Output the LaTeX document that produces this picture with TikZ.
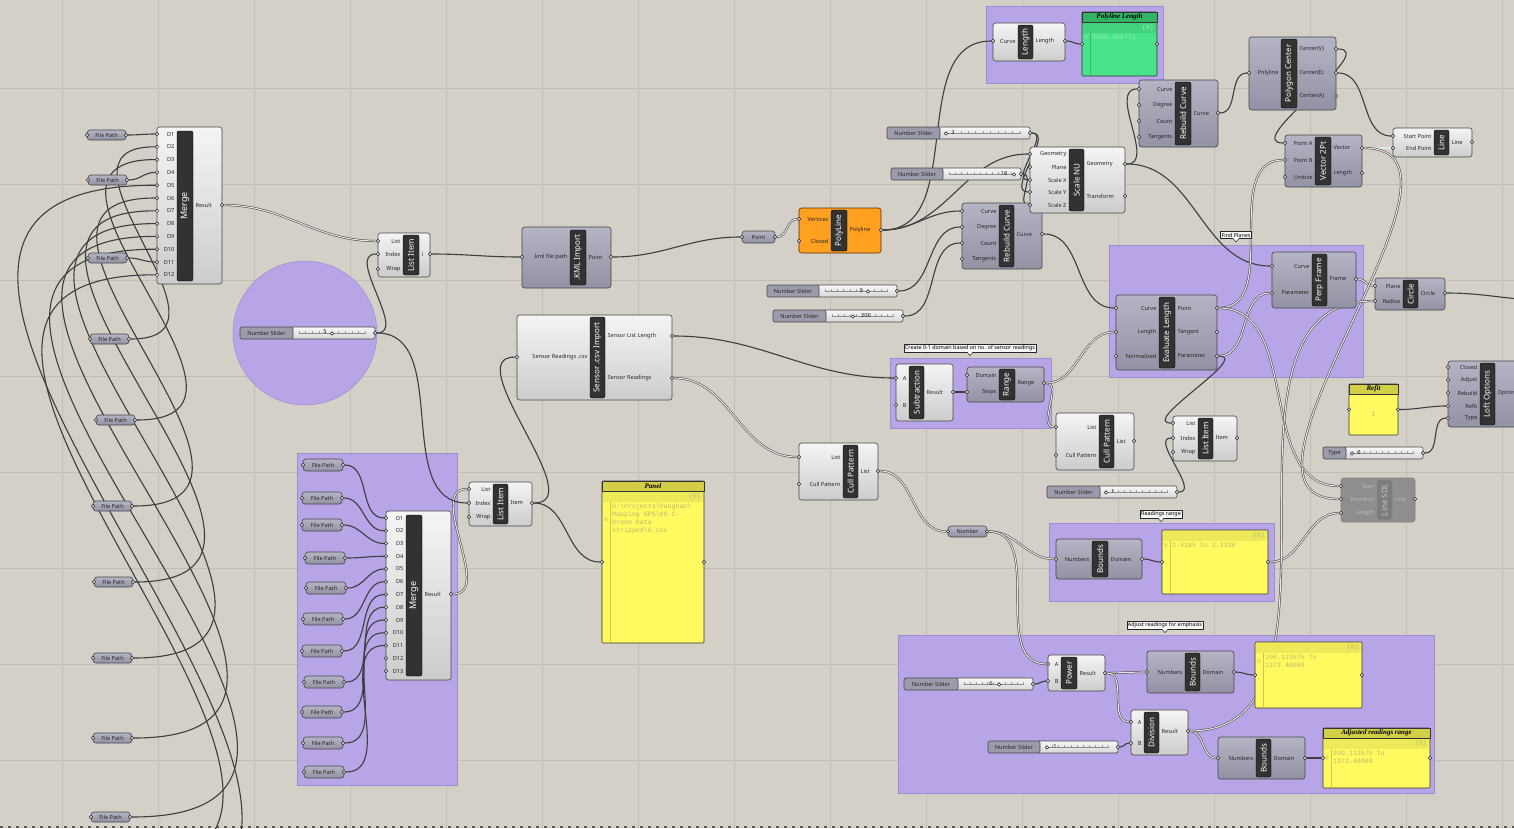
\documentclass[tikz,border=0pt]{standalone}
\usepackage{fontspec}
\setmainfont{Noto Sans}
\newfontfamily\ghmono{Liberation Mono}
\newfontfamily\ghserif{Liberation Serif}
\usetikzlibrary{calc}
\pgfdeclarelayer{back}
\pgfdeclarelayer{wires}
\pgfsetlayers{back,wires,main}

\definecolor{canvas}{RGB}{212,208,200}
\definecolor{gridc}{RGB}{194,190,182}
\definecolor{grpfill}{RGB}{183,165,232}
\definecolor{grpline}{RGB}{158,142,206}
\definecolor{wirec}{RGB}{62,62,62}
\definecolor{bluetop}{RGB}{180,180,196}
\definecolor{bluebot}{RGB}{146,146,164}
\definecolor{barc}{RGB}{50,50,50}
\definecolor{orangec}{RGB}{255,160,32}
\definecolor{panely}{RGB}{255,250,96}
\definecolor{panelh}{RGB}{210,206,70}
\definecolor{panelg}{RGB}{72,226,136}
\definecolor{panelgh}{RGB}{50,180,98}
\definecolor{paneltx}{RGB}{190,182,112}
\definecolor{paneltg}{RGB}{150,240,186}
\definecolor{offc}{RGB}{142,142,142}

\tikzset{
  box/.style={draw=black!72, line width=0.6pt, rounded corners=2.5pt, inner sep=0pt, outer sep=0pt},
  lightbox/.style={box, top color=white!96!black, bottom color=white!80!black},
  bluebox/.style={box, top color=bluetop, bottom color=bluebot},
  orangebox/.style={box, draw=orange!35!black, fill=orangec},
  offbox/.style={box, draw=black!50, fill=offc},
  bar/.style={draw=black, fill=barc, rounded corners=2pt, inner sep=0pt, text=white, font=\fontsize{8}{8}\selectfont},
  offbar/.style={bar, draw=black!45, fill=offc!88!black, text=white!78!black},
  plabel/.style={inner sep=0.4pt, font=\fontsize{5.6}{6}\selectfont, text=black!85},
  offlabel/.style={plabel, text=white!74!black},
  port/.style={circle, draw=black!85, fill=white!90!black, line width=0.5pt, inner sep=0pt, minimum size=3.6pt},
  param/.style={box, rounded corners=3pt, top color=bluetop, bottom color=bluebot, font=\fontsize{5.6}{6}\selectfont, text=black!85},
  slabel/.style={box, rounded corners=2pt, fill=bluebot!92!white, minimum height=12pt, font=\fontsize{5.6}{6}\selectfont, text=black!85},
  strack/.style={box, rounded corners=2pt, top color=white!97!black, bottom color=white!84!black, minimum height=12pt},
  stick/.style={draw=black!45, line width=0.35pt},
  sval/.style={inner sep=0pt, font=\fontsize{5.6}{6}\selectfont, text=black!85},
  handle/.style={circle, draw=black!85, fill=white, line width=0.5pt, inner sep=0pt, minimum size=3.4pt},
  panel/.style={draw=black!80, line width=0.6pt, rounded corners=1pt, inner sep=0pt, outer sep=0pt},
  phead/.style={draw=black!80, line width=0.6pt, inner sep=0pt, font=\ghserif\bfseries\itshape\fontsize{7}{7}\selectfont},
  ptext/.style={inner sep=0pt, align=left, font=\ghmono\fontsize{6.6}{8}\selectfont},
  group/.style={draw=grpline, fill=grpfill, line width=0.5pt, inner sep=0pt},
  note/.style={draw=black!85, fill=white!97!black, line width=0.5pt, inner sep=1.2pt, font=\fontsize{5.4}{6}\selectfont},
  wire/.style={draw=wirec, line width=1.1pt},
  dwire/.style={draw=wirec, line width=0.5pt, double=white!80!gray, double distance=1.1pt},
  farwire/.style={wire, looseness=1.6},
}

\newcommand\ghcomp[6]{%
  \pgfmathsetmacro\ghW{#4-#2}\pgfmathsetmacro\ghH{#5-#3}%
  \node[#6, minimum width=\ghW pt, minimum height=\ghH pt] (#1) at ({(#2+#4)/2},{(#3+#5)/2}) {};}
\newcommand\ghbar[7][bar]{%
  \pgfmathsetmacro\ghW{#5-#3}\pgfmathsetmacro\ghH{#6-#4}%
  \node[#1, rotate=90, minimum width=\ghH pt, minimum height=\ghW pt] (#2) at ({(#3+#5)/2},{(#4+#6)/2}) {#7};}
\newcommand\ghin[6][plabel]{%
  \node[#1, anchor=east] (#2-t) at ({#5},{#4}) {#6};
  \node[port] (#2) at ({#3},{#4}) {};}
\newcommand\ghout[6][plabel]{%
  \node[#1, anchor=west] (#2-t) at ({#5},{#4}) {#6};
  \node[port] (#2) at ({#3},{#4}) {};}
\newcommand\ghparam[6]{%
  \pgfmathsetmacro\ghW{#4-#2}\pgfmathsetmacro\ghH{#5-#3}%
  \node[param, minimum width=\ghW pt, minimum height=\ghH pt] (#1) at ({(#2+#4)/2},{(#3+#5)/2}) {#6};
  \node[port] (#1-i) at ({#2},{(#3+#5)/2}) {};
  \node[port] (#1-o) at ({#4},{(#3+#5)/2}) {};}
\newcommand\ghslider[9]{%
  \pgfmathsetmacro\ghW{#5-#4+3}\pgfmathsetmacro\ghH{#4-#2}\pgfmathsetmacro\ghS{(#5-#4-16)/10}%
  \node[strack, minimum width=\ghW pt] (#1-t) at ({(#4-3+#5)/2},{#3+6}) {};
  \node[slabel, minimum width=\ghH pt] (#1-l) at ({(#2+#4)/2},{#3+6}) {#6};
  \draw[stick] ({#4+6},{#3+6.5}) -- ({#5-10},{#3+6.5});
  \foreach \k in {0,...,10} \draw[stick] ({#4+6+\k*\ghS},{#3+6.5}) -- ++(0,-2);
  \node[sval] (#1-v) at ({#8},{#3+5}) {#7};
  \node[handle] (#1-h) at ({#9},{#3+6.5}) {};
  \node[port] (#1) at ({#5},{#3+6}) {};}
\newcommand\ghpanel[9]{%
  \pgfmathsetmacro\ghW{#4-#2}\pgfmathsetmacro\ghH{#5-#3}%
  \node[panel, fill=#7, minimum width=\ghW pt, minimum height=\ghH pt] (#1) at ({(#2+#4)/2},{(#3+#5)/2}) {};
  \fill[#7!93!black] ({#2+0.6},{#6+0.6}) rectangle ({#4-0.6},{#6+11});
  \draw[#7!80!black, line width=0.4pt] ({#2+8},{#6+11}) -- ({#2+8},{#5-0.6});
  \node[ptext, anchor=east, text=#9] (#1-b) at ({#4-3},{#6+5.8}) {\{0\}};
  \node[ptext, anchor=north west, text=#9] (#1-x) at ({#2+10},{#6+13}) {#8};
  \node[ptext, text=#9, font=\ghmono\fontsize{5.6}{6}\selectfont] (#1-n) at ({#2+4},0 |- #1-x.center) {0};
  \node[port] (#1-i) at ({#2},{(#3+#5)/2}) {};
  \node[port] (#1-o) at ({#4},{(#3+#5)/2}) {};}
\newcommand\ghtitle[6]{%
  \pgfmathsetmacro\ghW{#4-#2}%
  \node[phead, fill=#6, minimum width=\ghW pt, minimum height=10pt] (#1) at ({(#2+#4)/2},{#3+5}) {#5};}
\newcommand\ghnote[4]{%
  \node[note] (#1) at ({#2},{#3}) {#4};
  \fill[white!97!black] ($(#1.south)+(-3,-0.3)$) -- ($(#1.south)+(0,3.5)$) -- ($(#1.south)+(3,-0.3)$) -- cycle;
  \draw[black!85, line width=0.5pt] ($(#1.south)+(-3,0)$) -- ($(#1.south)+(0,3.5)$) -- ($(#1.south)+(3,0)$);}
\newcommand\wire[3][wire]{\draw[#1] (#2) to[out=0,in=180] (#3);}

\begin{document}
\begin{tikzpicture}[x=1pt, y=-1pt, line join=round, line cap=round]
\useasboundingbox (0,0) rectangle (1514,828);
\begin{pgfonlayer}{back}
\fill[canvas] (0,0) rectangle (1514,828);
\foreach \gx in {62,158,...,1502} \draw[gridc, line width=0.6pt] (\gx,0) -- (\gx,828);
\foreach \gy in {88,184,...,760} \draw[gridc, line width=0.6pt] (0,\gy) -- (1514,\gy);
\node[group, circle, minimum size=144pt] (gSl) at (305,333) {};
\ghcomp{gLen}{986}{6}{1163}{83}{group}
\ghcomp{gFind}{1109}{245}{1363}{377}{group}
\ghcomp{gDom}{890}{358}{1051}{428}{group}
\ghcomp{gRange}{1049}{523}{1274}{601}{group}
\ghcomp{gAdj}{898}{635}{1434}{793}{group}
\ghcomp{gFP}{297}{453}{457}{785}{group}
\draw[black!65, line width=1.6pt, dash pattern=on 3pt off 5pt] (0,827) -- (1514,827);
\end{pgfonlayer}

\ghnote{nFind}{1236}{235}{Find Planes}
\ghnote{nDom}{970}{348}{Create 0-1 domain based on no. of sensor readings}
\ghnote{nRange}{1161}{514}{Readings range}
\ghnote{nAdj}{1165}{625}{Adjust readings for emphasis}

\ghcomp{mA}{157}{127}{222}{284}{lightbox}
\ghbar{mA-bar}{177}{131}{193}{281}{\fontsize{9}{9}\selectfont Merge}
\foreach \i in {1,...,12} {\pgfmathsetmacro\ghY{134+(\i-1)*12.8}\ghin{mA-\i}{157}{\ghY}{175}{D\i}}
\ghout{mA-r}{222}{205}{195}{Result}
\foreach \n/\px/\py in {1/87/130,2/88/175,3/88/253,4/90/334,5/96/415,6/93/501,7/94/577,8/93/653,9/93/733,10/91/812}
  \ghparam{fpL\n}{\px}{\py}{\px+39}{\py+10}{File Path};
\coordinate (offA) at (110,870);
\coordinate (offB) at (105,910);

\ghcomp{mB}{386}{511}{451}{680}{lightbox}
\ghbar{mB-bar}{406}{515}{422}{676}{\fontsize{9}{9}\selectfont Merge}
\foreach \i in {1,...,13} {\pgfmathsetmacro\ghY{518+(\i-1)*12.75}\ghin{mB-\i}{386}{\ghY}{404}{D\i}}
\ghout{mB-r}{451}{594}{424}{Result}
\foreach \n/\px/\py in {1/303/459,2/302/492,3/302/519,4/305/552,5/306/582,6/303/613,7/302/645,8/304/676,9/302/706,10/303/737,11/304/766}
  \ghparam{fpG\n}{\px}{\py}{\px+40}{\py+12}{File Path};

\ghslider{slA}{240}{327}{293}{375}{Number Slider}{5}{325}{332}
\ghcomp{liA}{378}{233}{430}{277}{lightbox}
\ghbar{liA-bar}{403}{235}{419}{275}{List Item}
\ghin{liA-list}{378}{241}{401}{List}
\ghin{liA-index}{378}{254}{401}{Index}
\ghin{liA-wrap}{378}{269}{401}{Wrap}
\ghout{liA-i}{430}{254}{421}{i}

\ghcomp{liB}{469}{482}{532}{526}{lightbox}
\ghbar{liB-bar}{493}{484}{508}{524}{List Item}
\ghin{liB-list}{469}{489}{491}{List}
\ghin{liB-index}{469}{503}{491}{Index}
\ghin{liB-wrap}{469}{517}{491}{Wrap}
\ghout{liB-item}{532}{503}{510}{Item}

\ghpanel{pA}{602}{481}{704}{643}{491}{panely}{D:\textbackslash Projects\textbackslash Vaughan\textbackslash\\Mapping GPS\textbackslash 00-C-\\Drone Data\\stripped\textbackslash 6.csv}{paneltx}
\ghtitle{pA-h}{602}{481}{704}{Panel}{panelh}

\ghcomp{kml}{522}{227}{611}{288}{bluebox}
\ghbar{kml-bar}{570}{230}{586}{285}{.KML Import}
\ghin{kml-in}{522}{257}{568}{.kml file path}
\ghout{kml-pt}{611}{257}{588}{Point}

\ghcomp{sen}{517}{315}{672}{400}{lightbox}
\ghbar{sen-bar}{590}{317}{605}{398}{Sensor .csv Import}
\ghin{sen-in}{517}{357}{588}{Sensor Readings .csv}
\ghout{sen-len}{672}{336}{607}{Sensor List Length}
\ghout{sen-rd}{672}{378}{607}{Sensor Readings}

\ghparam{pt}{742}{231}{775}{243}{Point}
\ghcomp{pl}{799}{208}{881}{253}{orangebox}
\ghbar{pl-bar}{831}{210}{847}{251}{PolyLine}
\ghin{pl-v}{799}{219}{829}{Vertices}
\ghin{pl-c}{799}{241}{829}{Closed}
\ghout{pl-o}{881}{230}{849}{Polyline}

\ghslider{slD}{767}{285}{819}{897}{Number Slider}{3}{861}{868}
\ghslider{slE}{773}{310}{826}{903}{Number Slider}{200}{866}{853}
\ghcomp{rcB}{962}{203}{1042}{269}{bluebox}
\ghbar{rcB-bar}{999}{205}{1014}{267}{Rebuild Curve}
\ghin{rcB-curve}{962}{211}{997}{Curve}
\ghin{rcB-deg}{962}{227}{997}{Degree}
\ghin{rcB-cnt}{962}{243}{997}{Count}
\ghin{rcB-tan}{962}{259}{997}{Tangents}
\ghout{rcB-out}{1042}{234}{1016}{Curve}

\ghslider{slB}{887}{127}{940}{1030}{Number Slider}{2}{953}{946}
\ghslider{slC}{891}{168}{943}{1021}{Number Slider}{10}{1004}{1014}
\ghcomp{snu}{1030}{147}{1125}{213}{lightbox}
\ghbar{snu-bar}{1069}{149}{1084}{211}{Scale NU}
\ghin{snu-geo}{1030}{154}{1067}{Geometry}
\ghin{snu-pl}{1030}{167}{1067}{Plane}
\ghin{snu-sx}{1030}{180}{1067}{Scale X}
\ghin{snu-sy}{1030}{192}{1067}{Scale Y}
\ghin{snu-sz}{1030}{205}{1067}{Scale Z}
\ghout{snu-go}{1125}{164}{1086}{Geometry}
\ghout{snu-tr}{1125}{196}{1086}{Transform}

\ghcomp{len}{993}{23}{1065}{61}{lightbox}
\ghbar{len-bar}{1018}{25}{1033}{59}{Length}
\ghin{len-curve}{993}{41}{1016}{Curve}
\ghout{len-len}{1065}{41}{1035}{Length}
\ghpanel{pL}{1082}{12}{1157}{76}{22}{panelg}{2069.906773}{paneltg}
\ghtitle{pL-h}{1082}{12}{1157}{Polyline Length}{panelgh}

\ghcomp{rcA}{1139}{80}{1218}{147}{bluebox}
\ghbar{rcA-bar}{1175}{82}{1191}{145}{Rebuild Curve}
\ghin{rcA-curve}{1139}{89}{1173}{Curve}
\ghin{rcA-deg}{1139}{105}{1173}{Degree}
\ghin{rcA-cnt}{1139}{121}{1173}{Count}
\ghin{rcA-tan}{1139}{137}{1173}{Tangents}
\ghout{rcA-out}{1218}{113}{1193}{Curve}

\ghcomp{pc}{1249}{37}{1336}{110}{bluebox}
\ghbar{pc-bar}{1281}{39}{1297}{108}{Polygon Center}
\ghin{pc-poly}{1249}{73}{1279}{Polyline}
\ghout{pc-cv}{1336}{49}{1299}{Center(V)}
\ghout{pc-ce}{1336}{73}{1299}{Center(E)}
\ghout{pc-ca}{1336}{96}{1299}{Center(A)}

\ghcomp{v2}{1285}{135}{1362}{187}{bluebox}
\ghbar{v2-bar}{1315}{137}{1331}{185}{Vector 2Pt}
\ghin{v2-a}{1285}{143}{1313}{Point A}
\ghin{v2-b}{1285}{160}{1313}{Point B}
\ghin{v2-u}{1285}{177}{1313}{Unitize}
\ghout{v2-vec}{1362}{148}{1333}{Vector}
\ghout{v2-len}{1362}{173}{1333}{Length}

\ghcomp{ln}{1393}{128}{1472}{157}{lightbox}
\ghbar{ln-bar}{1434}{130}{1449}{155}{Line}
\ghin{ln-s}{1393}{136}{1432}{Start Point}
\ghin{ln-e}{1393}{148}{1432}{End Point}
\ghout{ln-o}{1472}{142}{1451}{Line}

\ghcomp{pf}{1272}{252}{1356}{308}{bluebox}
\ghbar{pf-bar}{1312}{254}{1327}{306}{Perp Frame}
\ghin{pf-curve}{1272}{266}{1310}{Curve}
\ghin{pf-par}{1272}{293}{1310}{Parameter}
\ghout{pf-fr}{1356}{279}{1329}{Frame}

\ghcomp{el}{1116}{295}{1217}{370}{bluebox}
\ghbar{el-bar}{1159}{297}{1175}{368}{Evaluate Length}
\ghin{el-curve}{1116}{308}{1157}{Curve}
\ghin{el-len}{1116}{332}{1157}{Length}
\ghin{el-norm}{1116}{356}{1157}{Normalized}
\ghout{el-pt}{1217}{308}{1177}{Point}
\ghout{el-tan}{1217}{332}{1177}{Tangent}
\ghout{el-par}{1217}{356}{1177}{Parameter}

\ghcomp{ci}{1375}{278}{1445}{310}{bluebox}
\ghbar{ci-bar}{1403}{280}{1418}{308}{Circle}
\ghin{ci-pl}{1375}{286}{1401}{Plane}
\ghin{ci-rad}{1375}{301}{1401}{Radius}
\ghout{ci-o}{1445}{293}{1420}{Circle}
\coordinate (loftC) at (1545,300);

\ghcomp{lo}{1448}{361}{1534}{427}{bluebox}
\ghbar{lo-bar}{1480}{363}{1495}{425}{Loft Options}
\ghin{lo-closed}{1448}{367}{1478}{Closed}
\ghin{lo-adjust}{1448}{380}{1478}{Adjust}
\ghin{lo-rebuild}{1448}{393}{1478}{Rebuild}
\ghin{lo-refit}{1448}{406}{1478}{Refit}
\ghin{lo-type}{1448}{418}{1478}{Type}
\node[plabel, anchor=west] (lo-o-t) at (1497,393) {Options};

\node[panel, fill=panely, minimum width=49pt, minimum height=51pt] (pR) at (1373.5,409.5) {};
\ghtitle{pR-h}{1349}{384}{1398}{Refit}{panelh}
\node[ptext, text=paneltx] (pR-x) at (1373.5,414) {1};
\node[port] (pR-i) at (1349,409.5) {};
\node[port] (pR-o) at (1398,409.5) {};
\ghslider{slT}{1323}{447}{1346}{1423}{Type}{0}{1359}{1352}

\ghcomp{liC}{1173}{416}{1237}{461}{lightbox}
\ghbar{liC-bar}{1198}{418}{1213}{459}{List Item}
\ghin{liC-list}{1173}{423}{1196}{List}
\ghin{liC-index}{1173}{438}{1196}{Index}
\ghin{liC-wrap}{1173}{452}{1196}{Wrap}
\ghout{liC-item}{1237}{438}{1215}{Item}
\ghslider{slF}{1047}{486}{1100}{1177}{Number Slider}{1}{1113}{1106}

\ghcomp{sub}{896}{364}{953}{421}{lightbox}
\ghbar{sub-bar}{909}{366}{924}{419}{Subtraction}
\ghin{sub-a}{896}{378}{907}{A}
\ghin{sub-b}{896}{405}{907}{B}
\ghout{sub-r}{953}{392}{926}{Result}
\ghcomp{rg}{967}{367}{1044}{402}{bluebox}
\ghbar{rg-bar}{999}{369}{1015}{400}{Range}
\ghin{rg-dom}{967}{375}{997}{Domain}
\ghin{rg-st}{967}{392}{997}{Steps}
\ghout{rg-r}{1044}{383}{1017}{Range}

\ghcomp{cpB}{1056}{413}{1134}{470}{lightbox}
\ghbar{cpB-bar}{1099}{415}{1114}{468}{Cull Pattern}
\ghin{cpB-list}{1056}{427}{1097}{List}
\ghin{cpB-pat}{1056}{455}{1097}{Cull Pattern}
\ghout{cpB-o}{1134}{441}{1116}{List}

\ghcomp{cpA}{799}{443}{878}{500}{lightbox}
\ghbar{cpA-bar}{843}{445}{858}{498}{Cull Pattern}
\ghin{cpA-list}{799}{457}{841}{List}
\ghin{cpA-pat}{799}{484}{841}{Cull Pattern}
\ghout{cpA-o}{878}{471}{860}{List}
\ghparam{num}{948}{526}{987}{537}{Number}

\ghcomp{bdA}{1056}{539}{1142}{579}{bluebox}
\ghbar{bdA-bar}{1092}{541}{1108}{577}{Bounds}
\ghin{bdA-n}{1056}{559}{1090}{Numbers}
\ghout{bdA-d}{1142}{559}{1110}{Domain}
\ghpanel{pB}{1162}{530}{1268}{594}{530}{panely}{2.4185 To 3.3336}{paneltx}

\ghcomp{sdl}{1341}{478}{1415}{522}{offbox}
\ghbar[offbar]{sdl-bar}{1377}{480}{1392}{520}{Line SDL}
\ghin[offlabel]{sdl-s}{1341}{486}{1375}{Start}
\ghin[offlabel]{sdl-d}{1341}{499}{1375}{Direction}
\ghin[offlabel]{sdl-len}{1341}{513}{1375}{Length}
\ghout[offlabel]{sdl-o}{1415}{499}{1394}{Line}

\ghslider{slG}{904}{678}{958}{1033}{Number Slider}{6}{991}{999}
\ghcomp{pow}{1048}{655}{1105}{691}{lightbox}
\ghbar{pow-bar}{1061}{657}{1077}{689}{Power}
\ghin{pow-a}{1048}{664}{1059}{A}
\ghin{pow-b}{1048}{681}{1059}{B}
\ghout{pow-r}{1105}{673}{1079}{Result}
\ghcomp{bdB}{1147}{651}{1234}{693}{bluebox}
\ghbar{bdB-bar}{1185}{653}{1200}{691}{Bounds}
\ghin{bdB-n}{1147}{672}{1183}{Numbers}
\ghout{bdB-d}{1234}{672}{1202}{Domain}
\ghpanel{pC}{1255}{642}{1362}{708}{642}{panely}{200.113575 To\\1372.40068}{paneltx}

\ghslider{slH}{988}{741}{1040}{1118}{Number Slider}{1}{1055}{1047}
\ghcomp{dv}{1131}{710}{1188}{755}{lightbox}
\ghbar{dv-bar}{1144}{712}{1159}{753}{Division}
\ghin{dv-a}{1131}{722}{1142}{A}
\ghin{dv-b}{1131}{743}{1142}{B}
\ghout{dv-r}{1188}{731}{1161}{Result}
\ghcomp{bdC}{1218}{737}{1305}{779}{bluebox}
\ghbar{bdC-bar}{1256}{739}{1271}{777}{Bounds}
\ghin{bdC-n}{1218}{758}{1254}{Numbers}
\ghout{bdC-d}{1305}{758}{1273}{Domain}
\ghpanel{pD}{1323}{728}{1430}{788}{738}{panely}{200.113575 To\\1372.40068}{paneltx}
\ghtitle{pD-h}{1323}{728}{1430}{Adjusted readings range}{panelh}

\begin{pgfonlayer}{wires}
\wire{fpL1-o}{mA-1}
\wire{fpL2-o}{mA-4}
\wire{fpL3-o}{mA-11}
\wire[farwire]{fpL4-o}{mA-2}
\wire[farwire]{fpL5-o}{mA-3}
\wire[farwire]{fpL6-o}{mA-6}
\wire[farwire]{fpL7-o}{mA-7}
\wire[farwire]{fpL8-o}{mA-8}
\wire[farwire]{fpL9-o}{mA-9}
\wire[farwire]{fpL10-o}{mA-10}
\wire[farwire]{offA}{mA-12}
\wire[farwire]{offB}{mA-5}
\foreach \i in {1,...,11} \wire{fpG\i-o}{mB-\i};
\wire[dwire]{mA-r}{liA-list}
\wire[dwire]{mB-r}{liB-list}
\wire{slA}{liA-index}
\wire{slA}{liB-index}
\wire{liA-i}{kml-in}
\wire{liB-item}{sen-in}
\wire{liB-item}{pA-i}
\wire{kml-pt}{pt-i}
\wire[dwire]{pt-o}{pl-v}
\wire{pl-o}{rcB-curve}
\wire{pl-o}{len-curve}
\wire{pl-o}{snu-geo}
\wire{slD}{rcB-deg}
\wire{slE}{rcB-cnt}
\wire{slB}{snu-sx}
\wire{slB}{snu-sy}
\wire{slC}{snu-sz}
\wire{len-len}{pL-i}
\wire{snu-go}{rcA-curve}
\wire{snu-go}{pf-curve}
\wire{rcA-out}{pc-poly}
\wire{pc-cv}{v2-a}
\wire{pc-ce}{ln-s}
\wire[dwire]{v2-vec}{ln-e}
\wire[dwire]{el-pt}{v2-b}
\wire{rcB-out}{el-curve}
\wire[dwire]{el-par}{pf-par}
\wire{el-par}{liC-list}
\wire[dwire]{pf-fr}{ci-pl}
\wire{ci-o}{loftC}
\wire{pR-o}{lo-refit}
\wire{slT}{lo-type}
\wire{slF}{liC-index}
\wire[dwire]{el-pt}{sdl-s}
\wire[dwire]{v2-vec}{sdl-d}
\wire[dwire]{pB-o}{sdl-len}
\wire{sen-len}{sub-a}
\wire{sub-r}{rg-st}
\wire[dwire]{sen-rd}{cpA-list}
\wire[dwire]{rg-r}{cpB-list}
\wire[dwire]{rg-r}{el-len}
\wire[dwire]{cpA-o}{num-i}
\wire[dwire]{num-o}{bdA-n}
\wire[dwire]{num-o}{pow-a}
\wire{bdA-d}{pB-i}
\wire{slG}{pow-b}
\wire[dwire]{pow-r}{bdB-n}
\wire[dwire]{pow-r}{dv-a}
\wire{bdB-d}{pC-i}
\wire{slH}{dv-b}
\wire[dwire]{dv-r}{bdC-n}
\wire[dwire]{dv-r}{ci-rad}
\wire{bdC-d}{pD-i}
\end{pgfonlayer}
\end{tikzpicture}
\end{document}
